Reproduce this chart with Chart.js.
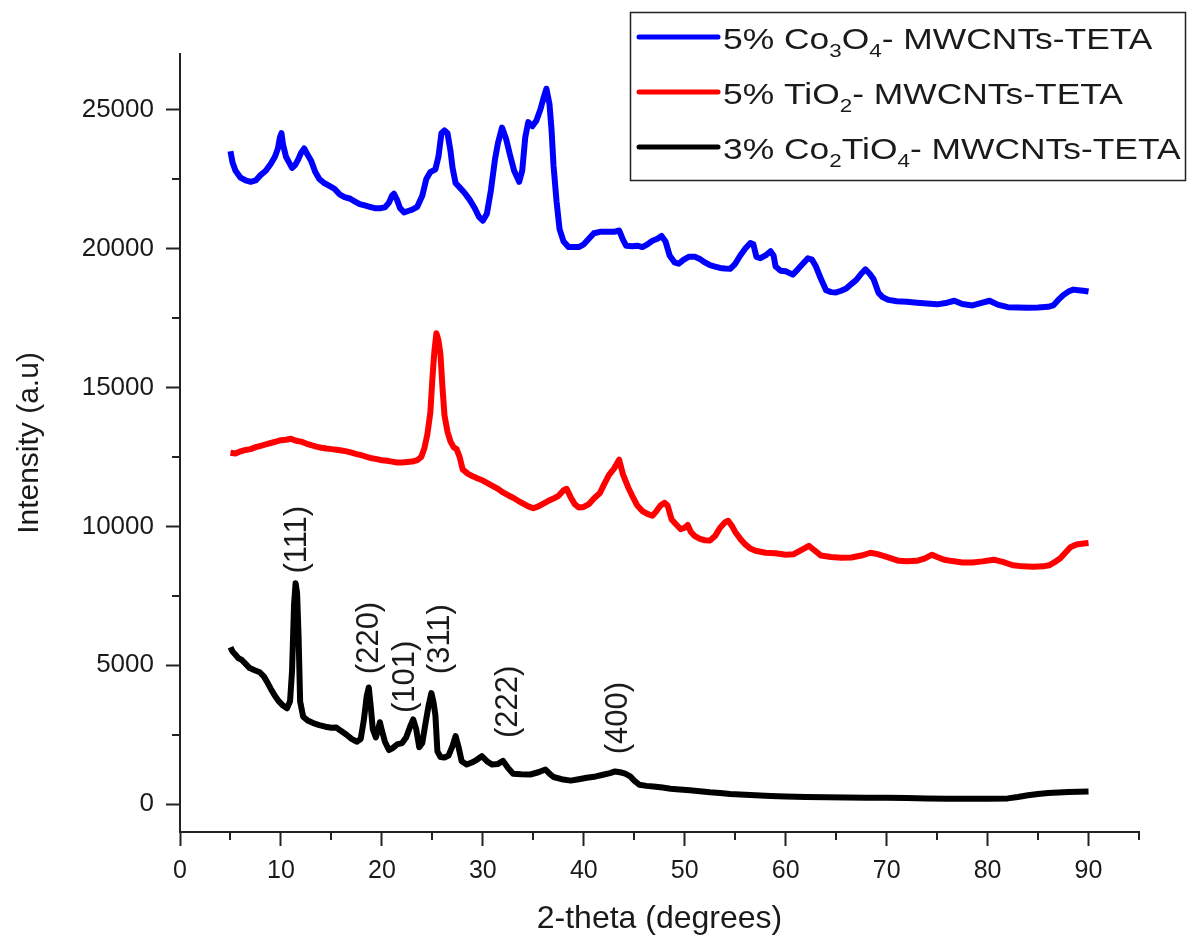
<!DOCTYPE html>
<html>
<head>
<meta charset="utf-8">
<script src="https://cdn.jsdelivr.net/npm/chart.js@4.4.1/dist/chart.umd.min.js"></script>
<style>
html,body{margin:0;padding:0;background:#ffffff;}
canvas{display:block;}
</style>
</head>
<body>
<canvas id="xrd" width="1188" height="937" style="width:1188px;height:937px"></canvas>
<script>
// ---------------- DATA ----------------
const seriesNames = [
  "5% Co\u2083O\u2084- MWCNTs-TETA",
  "5% TiO\u2082- MWCNTs-TETA",
  "3% Co\u2082TiO\u2084- MWCNTs-TETA"
];
// legend text pieces: [text, isSubscript]
const legendParts = [
  [["5% Co",0],["3",1],["O",0],["4",1],["- MWCNTs-TETA",0]],
  [["5% TiO",0],["2",1],["- MWCNTs-TETA",0]],
  [["3% Co",0],["2",1],["TiO",0],["4",1],["- MWCNTs-TETA",0]]
];
const seriesColors = ["#0000ff", "#ff0000", "#000000"];

// 5% Co3O4 - MWCNTs-TETA
const co3o4X = [5.0,5.2,5.5,6.0,6.5,7.0,7.5,8.0,8.5,9.0,9.4,9.7,9.9,10.05,10.2,10.5,10.8,11.1,11.4,11.7,12.0,12.3,12.6,13.0,13.4,13.8,14.3,14.8,15.3,15.8,16.3,16.8,17.3,17.8,18.3,18.8,19.3,19.8,20.3,20.7,21.0,21.2,21.5,21.8,22.2,22.6,23.0,23.5,24.0,24.4,24.8,25.3,25.6,25.9,26.2,26.5,26.8,27.0,27.3,27.7,28.2,28.7,29.2,29.6,30.0,30.4,30.8,31.2,31.5,31.9,32.3,32.7,33.1,33.6,33.9,34.2,34.5,34.9,35.3,35.7,36.0,36.3,36.6,36.8,37.0,37.3,37.6,38.0,38.5,39.0,39.5,40.0,40.5,41.0,41.6,42.3,43.0,43.5,43.9,44.2,44.8,45.3,45.8,46.3,46.8,47.3,47.7,48.1,48.5,49.0,49.4,49.9,50.4,51.0,51.5,52.0,52.5,53.0,53.5,54.0,54.5,55.0,55.5,56.0,56.5,56.8,57.1,57.5,58.0,58.5,58.8,59.0,59.5,60.0,60.7,61.2,61.7,62.2,62.6,63.0,63.5,64.0,64.5,65.0,65.5,66.0,66.5,67.0,67.5,67.9,68.3,68.7,69.2,69.6,70.2,71.0,72.0,73.0,74.0,75.0,76.0,76.7,77.5,78.5,79.5,80.2,81.0,82.0,83.0,84.0,85.0,86.0,86.5,87.0,87.5,88.0,88.5,89.0,89.5,90.0];
const co3o4Y = [23500,23100,22800,22550,22450,22400,22450,22650,22800,23050,23300,23600,24000,24150,23750,23300,23100,22900,23000,23200,23450,23600,23400,23150,22750,22500,22350,22250,22150,21950,21850,21800,21700,21600,21550,21500,21450,21450,21480,21650,21900,21970,21750,21450,21300,21350,21400,21500,21900,22500,22750,22850,23300,24150,24250,24150,23500,22900,22350,22200,22000,21750,21450,21150,21000,21250,22100,23200,23800,24350,23950,23350,22800,22400,22800,24000,24550,24400,24600,25000,25400,25750,25200,24300,23000,21700,20700,20250,20050,20050,20050,20150,20350,20550,20600,20600,20600,20650,20300,20100,20080,20100,20050,20150,20280,20350,20450,20250,19750,19500,19450,19600,19700,19700,19620,19500,19400,19350,19300,19280,19270,19450,19750,20000,20200,20150,19700,19650,19750,19900,19750,19350,19200,19180,19060,19250,19450,19650,19600,19350,18900,18500,18430,18420,18480,18560,18720,18870,19100,19250,19100,18900,18400,18250,18150,18100,18080,18050,18020,17990,18050,18120,18000,17950,18050,18120,17980,17890,17880,17870,17880,17900,17950,18150,18320,18450,18520,18500,18480,18450];

// 5% TiO2 - MWCNTs-TETA
const tio2X = [5.0,5.5,6.0,6.5,7.0,7.5,8.0,8.5,9.0,9.5,10.0,10.5,11.0,11.5,12.0,12.5,13.0,13.5,14.0,14.5,15.0,15.5,16.0,16.5,17.0,17.5,18.0,18.5,19.0,19.5,20.0,20.5,21.0,21.5,22.0,22.5,23.0,23.5,23.9,24.2,24.5,24.8,25.0,25.2,25.4,25.6,25.8,26.0,26.2,26.5,26.8,27.1,27.4,27.7,28.0,28.5,29.0,29.5,30.0,30.5,31.0,31.5,32.0,32.5,33.0,33.5,34.0,34.5,35.0,35.5,36.0,36.5,37.0,37.5,38.0,38.3,38.7,39.1,39.5,40.0,40.5,41.0,41.6,42.0,42.5,43.0,43.5,43.9,44.4,44.8,45.3,45.8,46.3,46.8,47.2,47.6,48.0,48.3,48.7,49.2,49.6,50.0,50.3,50.6,51.0,51.5,52.0,52.5,53.0,53.5,54.0,54.3,54.7,55.0,55.5,56.0,56.5,57.0,58.0,59.0,60.0,60.8,61.3,61.8,62.3,62.8,63.5,64.5,65.5,66.5,67.5,68.4,69.1,70.0,71.2,72.0,73.0,73.8,74.5,75.0,75.7,76.5,77.5,78.5,79.5,80.6,81.5,82.5,83.5,84.5,85.5,86.1,86.6,87.2,87.7,88.2,88.8,89.5,90.0];
const tio2Y = [12650,12620,12700,12750,12780,12850,12900,12950,13000,13050,13100,13120,13150,13080,13050,12980,12920,12870,12830,12800,12780,12760,12730,12700,12650,12600,12560,12500,12450,12420,12380,12360,12330,12300,12300,12320,12330,12380,12500,12800,13300,14100,15300,16300,16950,16700,16200,15000,14000,13400,13050,12850,12780,12500,12050,11900,11800,11720,11650,11550,11450,11350,11220,11120,11030,10920,10820,10720,10650,10720,10820,10920,11000,11100,11300,11350,11050,10800,10680,10700,10800,11000,11200,11500,11850,12080,12400,11850,11400,11100,10750,10550,10450,10380,10550,10750,10850,10750,10250,10050,9900,9950,10050,9800,9650,9550,9500,9490,9650,9950,10150,10200,10000,9800,9550,9350,9200,9120,9050,9030,8980,9000,9100,9200,9300,9150,8950,8900,8870,8880,8950,9050,9000,8900,8760,8740,8760,8850,8980,8900,8800,8750,8700,8700,8740,8800,8720,8600,8560,8550,8560,8600,8700,8850,9050,9250,9350,9380,9400];

// 3% Co2TiO4 - MWCNTs-TETA
const co2tio4X = [5.0,5.2,5.5,5.8,6.1,6.5,6.9,7.4,7.9,8.3,8.6,9.0,9.4,9.8,10.2,10.6,10.9,11.1,11.3,11.45,11.6,11.75,11.9,12.2,12.7,13.2,13.8,14.4,15.0,15.5,15.9,16.5,17.0,17.5,17.9,18.2,18.5,18.7,18.9,19.1,19.4,19.6,19.8,20.0,20.3,20.7,21.0,21.5,22.0,22.4,22.8,23.1,23.4,23.7,24.0,24.3,24.6,24.9,25.1,25.3,25.5,25.8,26.2,26.6,27.0,27.3,27.6,27.9,28.4,28.9,29.4,29.9,30.4,30.9,31.5,32.0,32.5,33.0,33.8,34.7,35.5,36.2,36.6,37.0,37.8,38.7,39.5,40.3,41.2,42.0,42.6,43.1,43.6,44.1,44.6,45.0,45.5,46.2,46.9,47.8,48.6,49.5,50.5,51.5,52.5,53.5,54.5,55.5,57.0,58.5,60.0,62.0,64.0,66.0,68.0,70.0,72.0,74.0,76.0,78.0,80.0,82.0,83.0,84.0,85.0,86.0,87.0,88.0,89.0,90.0];
const co2tio4Y = [5650,5500,5380,5250,5200,5050,4900,4820,4750,4600,4420,4150,3900,3700,3550,3450,3700,4800,7200,7950,7600,6000,3700,3150,3000,2920,2850,2790,2750,2760,2650,2500,2350,2250,2350,3000,3900,4200,3500,2700,2400,2650,2950,2650,2250,1950,2000,2150,2200,2400,2800,3050,2700,2050,2200,2870,3500,4000,3700,3200,1900,1700,1680,1750,2100,2450,2050,1550,1430,1500,1600,1730,1550,1430,1450,1560,1300,1100,1080,1070,1150,1250,1100,980,900,850,900,950,1000,1070,1120,1180,1150,1100,1000,850,700,660,640,600,560,530,500,470,430,400,370,350,320,300,280,260,250,240,230,230,220,210,200,200,200,210,260,320,370,400,420,440,450,460];

const xTickValues = [0,5,10,15,20,25,30,35,40,45,50,55,60,65,70,75,80,85,90,95];
const xTickLabels = ["0","","10","","20","","30","","40","","50","","60","","70","","80","","90",""];
const yTickValues = [0,2500,5000,7500,10000,12500,15000,17500,20000,22500,25000];
const yTickLabels = ["0","","5000","","10000","","15000","","20000","","25000"];

const peakLabels = ["(111)","(220)","(101)","(311)","(222)","(400)"];
const peakX = [11.6, 18.8, 22.3, 25.8, 32.5, 43.4];
const peakY = [8300, 4680, 3280, 4680, 2380, 1800];

const xTitle = "2-theta (degrees)";
const yTitle = "Intensity (a.u)";

// ---------------- CHART ----------------
const FONT = "'Liberation Sans', Arial, Helvetica, sans-serif";
const TEXT = "#1a1a1a";
const AXIS = "#222222";

function toPoints(xs, ys){ return xs.map((x,i)=>({x:x, y:ys[i]})); }

const minorTicks = {
  id: 'minorTicks',
  afterDraw(chart){
    const ctx = chart.ctx, xs = chart.scales.x, ys = chart.scales.y;
    ctx.save();
    ctx.strokeStyle = AXIS; ctx.lineWidth = 2;
    xTickValues.forEach((v,i)=>{
      if (xTickLabels[i] !== "") return;
      const px = Math.round(xs.getPixelForValue(v));
      ctx.beginPath(); ctx.moveTo(px, xs.top); ctx.lineTo(px, xs.top + 8); ctx.stroke();
    });
    yTickValues.forEach((v,i)=>{
      if (yTickLabels[i] !== "") return;
      const py = Math.round(ys.getPixelForValue(v));
      ctx.beginPath(); ctx.moveTo(ys.right, py); ctx.lineTo(ys.right - 8, py); ctx.stroke();
    });
    ctx.restore();
  }
};

const peakText = {
  id: 'peakText',
  afterDatasetsDraw(chart){
    const ctx = chart.ctx, xs = chart.scales.x, ys = chart.scales.y;
    ctx.save();
    ctx.font = "31px " + FONT;
    ctx.fillStyle = TEXT;
    ctx.textAlign = 'left';
    ctx.textBaseline = 'middle';
    peakLabels.forEach((t,i)=>{
      ctx.save();
      ctx.translate(xs.getPixelForValue(peakX[i]), ys.getPixelForValue(peakY[i]));
      ctx.rotate(-Math.PI/2);
      ctx.fillText(t, 0, 0);
      ctx.restore();
    });
    ctx.restore();
  }
};

const boxLegend = {
  id: 'boxLegend',
  afterDraw(chart){
    const ctx = chart.ctx;
    const SX = 1.18;
    ctx.save();
    ctx.strokeStyle = AXIS; ctx.lineWidth = 1.5;
    ctx.strokeRect(630.5, 12.5, 555, 168);
    const rowY = [37, 92, 147];
    chart.data.datasets.forEach((ds,i)=>{
      const y = rowY[i];
      ctx.strokeStyle = ds.borderColor; ctx.lineWidth = 5; ctx.lineCap = 'round';
      ctx.beginPath(); ctx.moveTo(639, y); ctx.lineTo(718, y); ctx.stroke();
      let x = 723;
      const base = y + 12;
      ctx.fillStyle = TEXT;
      ctx.textAlign = 'left';
      ctx.textBaseline = 'alphabetic';
      legendParts[i].forEach(([t, sub])=>{
        ctx.font = (sub ? "19px " : "30px ") + FONT;
        ctx.save();
        ctx.translate(x, base + (sub ? 8 : 0));
        ctx.scale(SX, 1);
        ctx.fillText(t, 0, 0);
        ctx.restore();
        x += ctx.measureText(t).width * SX;
      });
    });
    ctx.restore();
  }
};

new Chart(document.getElementById('xrd'), {
  type: 'line',
  data: {
    datasets: [
      {label: seriesNames[0], data: toPoints(co3o4X, co3o4Y), borderColor: seriesColors[0]},
      {label: seriesNames[1], data: toPoints(tio2X, tio2Y), borderColor: seriesColors[1]},
      {label: seriesNames[2], data: toPoints(co2tio4X, co2tio4Y), borderColor: seriesColors[2]}
    ]
  },
  options: {
    responsive: false,
    animation: false,
    devicePixelRatio: 1,
    parsing: false,
    elements: {
      line: {borderWidth: 6, tension: 0, fill: false, borderJoinStyle: 'round', borderCapStyle: 'butt'},
      point: {radius: 0, hoverRadius: 0}
    },
    layout: {padding: {left: 0, top: 54, right: 49, bottom: 0}},
    plugins: {legend: {display: false}, tooltip: {enabled: false}},
    scales: {
      x: {
        type: 'linear', min: 0, max: 95,
        afterBuildTicks: s => { s.ticks = xTickValues.map(v => ({value: v})); },
        afterFit: s => { s.height = 105; },
        grid: {
          display: true, drawOnChartArea: false, drawTicks: true, tickLength: 14,
          tickWidth: 2,
          tickColor: c => (c.tick && xTickLabels[xTickValues.indexOf(c.tick.value)] !== "") ? AXIS : 'rgba(0,0,0,0)'
        },
        border: {display: true, color: AXIS, width: 2},
        ticks: {
          autoSkip: false, maxRotation: 0, padding: 10, color: TEXT,
          font: {family: FONT, size: 25},
          callback: (v, i) => xTickLabels[xTickValues.indexOf(v)]
        },
        title: {display: true, text: xTitle, color: TEXT,
          font: {family: FONT, size: 32, lineHeight: 1}, padding: {top: 0, bottom: 2}}
      },
      y: {
        type: 'linear', min: -1000, max: 27000,
        afterBuildTicks: s => { s.ticks = yTickValues.map(v => ({value: v})); },
        afterFit: s => { s.width = 180; },
        grid: {
          display: true, drawOnChartArea: false, drawTicks: true, tickLength: 14,
          tickWidth: 2,
          tickColor: c => (c.tick && yTickLabels[yTickValues.indexOf(c.tick.value)] !== "") ? AXIS : 'rgba(0,0,0,0)'
        },
        border: {display: true, color: AXIS, width: 2},
        ticks: {
          autoSkip: false, padding: 12, color: TEXT,
          font: {family: FONT, size: 26},
          callback: (v, i) => yTickLabels[yTickValues.indexOf(v)]
        },
        title: {display: true, text: yTitle, color: TEXT,
          font: {family: FONT, size: 30, lineHeight: 1}, padding: {top: 15, bottom: 0}}
      }
    }
  },
  plugins: [minorTicks, peakText, boxLegend]
});
</script>
</body>
</html>
